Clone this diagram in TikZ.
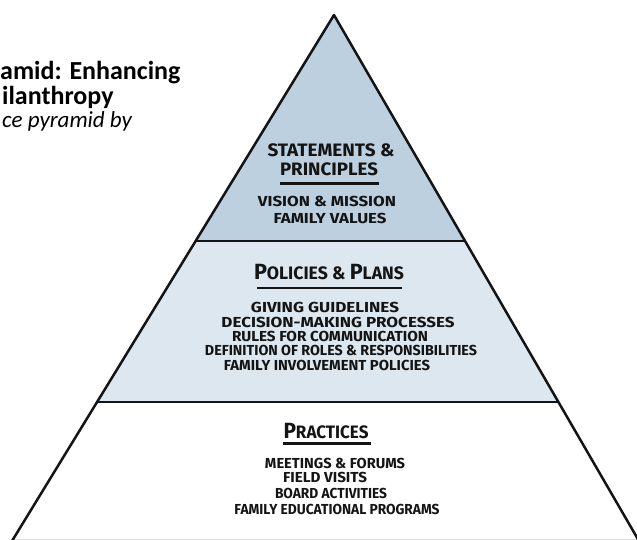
\documentclass[tikz,border=0pt]{standalone}
\usepackage{fontspec}
\usepackage{graphicx}
\usetikzlibrary{calc}
\newfontfamily\titlefont{Carlito}
\newfontfamily\handfont{Fira Sans}
\definecolor{tiertop}{HTML}{BCD0DF}
\definecolor{tiermid}{HTML}{DCE7EF}
\definecolor{ink}{HTML}{141414}
% stretch a line of lettering to a given width, keeping its height
\newcommand\wfit[2]{\resizebox{#1}{\height}{#2}}
% larger initial letter for the tier headings
\newcommand\bigc[1]{{\fontsize{22}{22}\selectfont #1}}

\begin{document}
\begin{tikzpicture}[x=1pt,y=-1pt,
  outline/.style={draw=ink, line width=2.5pt, line join=round},
  rule/.style={draw=ink, line width=2.8pt},
  head/.style={font=\handfont\bfseries\fontsize{18}{18}\selectfont, text=ink, anchor=base, inner sep=0pt},
  item/.style={font=\handfont\bfseries\fontsize{14.5}{14.5}\selectfont, text=ink, anchor=base, inner sep=0pt},
  title/.style={font=\titlefont\bfseries\fontsize{26}{26}\selectfont, anchor=base west, inner sep=0pt},
  subtitle/.style={font=\titlefont\itshape\fontsize{23}{23}\selectfont, anchor=base west, inner sep=0pt},
]
\useasboundingbox (0,0) rectangle (637,540);
\clip (0,0) rectangle (637,540);

% pyramid corners and tier boundaries
\coordinate (apex) at (334,15);
\coordinate (bl) at (12,541);
\coordinate (br) at (639,541);
\coordinate (l1) at ($(apex)!0.4297!(bl)$);
\coordinate (r1) at ($(apex)!0.4297!(br)$);
\coordinate (l2) at ($(apex)!0.7357!(bl)$);
\coordinate (r2) at ($(apex)!0.7357!(br)$);

% tier fills
\fill[tiertop] (apex) -- (r1) -- (l1) -- cycle;
\fill[tiermid] (l1) -- (r1) -- (r2) -- (l2) -- cycle;
\draw[outline] (l1) -- (r1);
\draw[outline] (l2) -- (r2);
\draw[outline] (apex) -- (br) -- (bl) -- cycle;

% title block
\node[title] (t1) at (0,80) {amid: Enhancing};
\node[title] (t2) at (2,105) {ilanthropy};
\node[subtitle] (t3) at (2,128) {ce pyramid by};

% top tier
\node[head] (st1) at (331,157) {\wfit{127pt}{STATEMENTS \&}};
\node[head] (st2) at (329,176) {\wfit{98pt}{PRINCIPLES}};
\draw[rule] (280,183.5) -- (379,183.5);
\node[item] (v1) at (327,207) {\wfit{138pt}{VISION \& MISSION}};
\node[item] (v2) at (330,223) {\wfit{113pt}{FAMILY VALUES}};

% middle tier
\node[head] (pp) at (329,279) {\wfit{150pt}{\bigc{P}OLICIES \& \bigc{P}LANS}};
\draw[rule] (257,288) -- (402,288);
\node[item] (m1) at (325,312.5) {\wfit{148pt}{GIVING GUIDELINES}};
\node[item] (m2) at (338,327) {\wfit{233pt}{DECISION-MAKING PROCESSES}};
\node[item] (m3) at (330,341.5) {\wfit{196pt}{RULES FOR COMMUNICATION}};
\node[item] (m4) at (341,355.5) {\wfit{272pt}{DEFINITION OF ROLES \& RESPONSIBILITIES}};
\node[item] (m5) at (327,370) {\wfit{206pt}{FAMILY INVOLVEMENT POLICIES}};

% bottom tier
\node[head] (pr) at (326,438) {\wfit{85pt}{\bigc{P}RACTICES}};
\draw[rule] (283,443.5) -- (371,443.5);
\node[item] (b1) at (335,468) {\wfit{140pt}{MEETINGS \& FORUMS}};
\node[item] (b2) at (325,482.5) {\wfit{84pt}{FIELD VISITS}};
\node[item] (b3) at (331,498) {\wfit{112pt}{BOARD ACTIVITIES}};
\node[item] (b4) at (337,514) {\wfit{205pt}{FAMILY EDUCATIONAL PROGRAMS}};
\end{tikzpicture}
\end{document}
